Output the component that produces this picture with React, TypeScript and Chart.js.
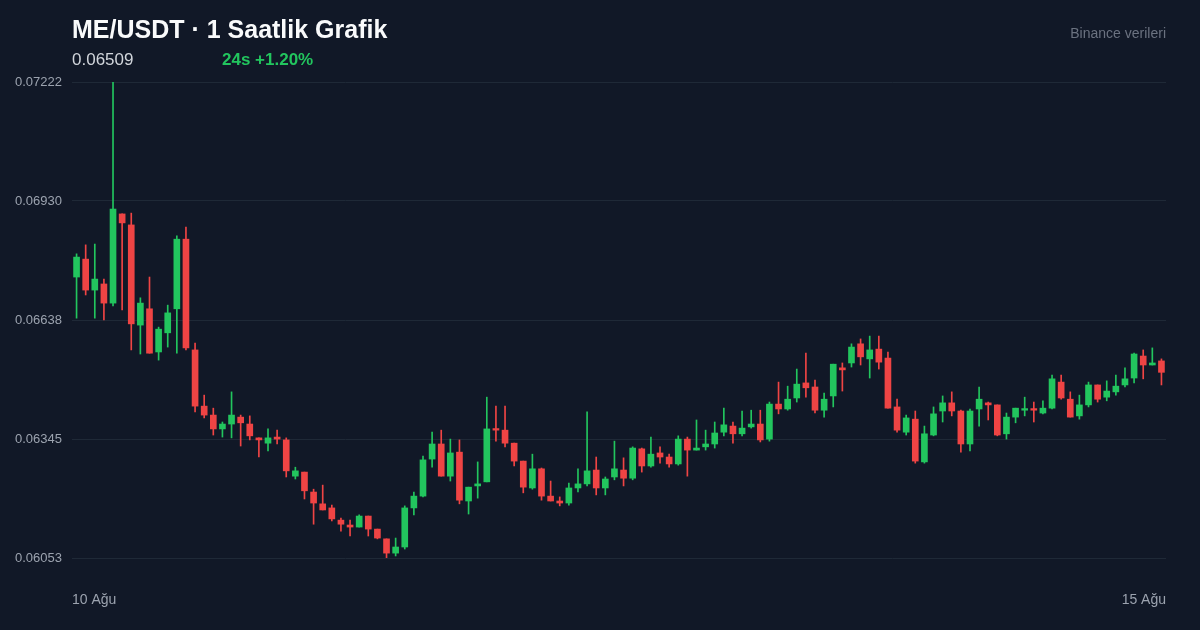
import React, { useEffect, useRef } from "react";
import { Chart, registerables } from "chart.js";

Chart.register(...registerables);

const OPEN = [
  0.06743, 0.06787, 0.06711, 0.06726, 0.06679, 0.06898, 0.06871, 0.06625, 0.06665, 0.06559,
  0.06606, 0.06665, 0.06836, 0.06564, 0.06426, 0.06404, 0.06370, 0.06382, 0.06399, 0.06382,
  0.06348, 0.06335, 0.06350, 0.06343, 0.06254, 0.06264, 0.06215, 0.06186, 0.06176, 0.06146,
  0.06134, 0.06129, 0.06156, 0.06124, 0.06100, 0.06065, 0.06080, 0.06176, 0.06205, 0.06296,
  0.06333, 0.06254, 0.06313, 0.06193, 0.06230, 0.06240, 0.06370, 0.06367, 0.06335, 0.06291,
  0.06225, 0.06272, 0.06205, 0.06193, 0.06188, 0.06225, 0.06235, 0.06269, 0.06225, 0.06252,
  0.06269, 0.06249, 0.06321, 0.06279, 0.06311, 0.06301, 0.06284, 0.06345, 0.06318, 0.06326,
  0.06333, 0.06362, 0.06377, 0.06358, 0.06375, 0.06382, 0.06345, 0.06431, 0.06419, 0.06446,
  0.06483, 0.06473, 0.06416, 0.06451, 0.06520, 0.06532, 0.06579, 0.06542, 0.06566, 0.06544,
  0.06424, 0.06362, 0.06394, 0.06289, 0.06355, 0.06414, 0.06434, 0.06414, 0.06333, 0.06419,
  0.06434, 0.06429, 0.06358, 0.06399, 0.06416, 0.06419, 0.06409, 0.06421, 0.06485, 0.06443,
  0.06402, 0.06429, 0.06478, 0.06448, 0.06461, 0.06478, 0.06495, 0.06549, 0.06527, 0.06537,
];

const HIGH = [
  0.06800, 0.06822, 0.06824, 0.06738, 0.07222, 0.06898, 0.06900, 0.06692, 0.06743, 0.06620,
  0.06674, 0.06844, 0.06866, 0.06581, 0.06453, 0.06421, 0.06387, 0.06461, 0.06404, 0.06402,
  0.06348, 0.06370, 0.06367, 0.06348, 0.06276, 0.06264, 0.06222, 0.06232, 0.06183, 0.06151,
  0.06146, 0.06159, 0.06156, 0.06124, 0.06100, 0.06102, 0.06181, 0.06215, 0.06303, 0.06362,
  0.06367, 0.06345, 0.06343, 0.06227, 0.06289, 0.06448, 0.06426, 0.06426, 0.06335, 0.06291,
  0.06308, 0.06274, 0.06242, 0.06203, 0.06237, 0.06272, 0.06412, 0.06301, 0.06252, 0.06340,
  0.06299, 0.06326, 0.06323, 0.06350, 0.06326, 0.06308, 0.06353, 0.06350, 0.06392, 0.06367,
  0.06387, 0.06421, 0.06387, 0.06414, 0.06416, 0.06416, 0.06436, 0.06485, 0.06475, 0.06517,
  0.06556, 0.06490, 0.06458, 0.06529, 0.06532, 0.06579, 0.06591, 0.06598, 0.06598, 0.06559,
  0.06443, 0.06404, 0.06414, 0.06377, 0.06424, 0.06451, 0.06461, 0.06416, 0.06419, 0.06473,
  0.06436, 0.06429, 0.06409, 0.06421, 0.06448, 0.06436, 0.06439, 0.06502, 0.06502, 0.06461,
  0.06453, 0.06485, 0.06478, 0.06488, 0.06502, 0.06520, 0.06556, 0.06564, 0.06569, 0.06542,
];

const LOW = [
  0.06642, 0.06699, 0.06642, 0.06638, 0.06672, 0.06662, 0.06564, 0.06554, 0.06556, 0.06539,
  0.06571, 0.06556, 0.06564, 0.06412, 0.06397, 0.06355, 0.06350, 0.06348, 0.06328, 0.06343,
  0.06301, 0.06316, 0.06333, 0.06252, 0.06247, 0.06198, 0.06136, 0.06171, 0.06144, 0.06119,
  0.06107, 0.06129, 0.06107, 0.06100, 0.06053, 0.06058, 0.06075, 0.06159, 0.06203, 0.06276,
  0.06254, 0.06242, 0.06186, 0.06161, 0.06200, 0.06240, 0.06340, 0.06326, 0.06279, 0.06213,
  0.06222, 0.06195, 0.06193, 0.06181, 0.06183, 0.06215, 0.06230, 0.06208, 0.06208, 0.06245,
  0.06230, 0.06245, 0.06264, 0.06276, 0.06286, 0.06276, 0.06281, 0.06254, 0.06318, 0.06318,
  0.06323, 0.06353, 0.06335, 0.06353, 0.06372, 0.06338, 0.06340, 0.06407, 0.06416, 0.06436,
  0.06448, 0.06409, 0.06399, 0.06424, 0.06463, 0.06522, 0.06527, 0.06495, 0.06517, 0.06421,
  0.06362, 0.06355, 0.06286, 0.06286, 0.06353, 0.06387, 0.06402, 0.06313, 0.06316, 0.06377,
  0.06392, 0.06353, 0.06345, 0.06385, 0.06402, 0.06387, 0.06407, 0.06419, 0.06443, 0.06399,
  0.06394, 0.06424, 0.06436, 0.06439, 0.06453, 0.06473, 0.06483, 0.06493, 0.06527, 0.06478,
];

const CLOSE = [
  0.06792, 0.06711, 0.06738, 0.06679, 0.06910, 0.06876, 0.06628, 0.06679, 0.06556, 0.06615,
  0.06655, 0.06836, 0.06569, 0.06426, 0.06404, 0.06370, 0.06382, 0.06404, 0.06385, 0.06353,
  0.06343, 0.06348, 0.06345, 0.06267, 0.06267, 0.06218, 0.06188, 0.06171, 0.06149, 0.06136,
  0.06129, 0.06156, 0.06124, 0.06102, 0.06065, 0.06080, 0.06176, 0.06205, 0.06294, 0.06333,
  0.06254, 0.06311, 0.06195, 0.06227, 0.06235, 0.06370, 0.06367, 0.06335, 0.06291, 0.06227,
  0.06272, 0.06205, 0.06193, 0.06188, 0.06225, 0.06235, 0.06267, 0.06225, 0.06247, 0.06272,
  0.06249, 0.06323, 0.06279, 0.06308, 0.06301, 0.06284, 0.06345, 0.06318, 0.06323, 0.06333,
  0.06360, 0.06380, 0.06358, 0.06372, 0.06382, 0.06343, 0.06431, 0.06419, 0.06443, 0.06480,
  0.06471, 0.06416, 0.06443, 0.06529, 0.06515, 0.06571, 0.06547, 0.06564, 0.06534, 0.06421,
  0.06367, 0.06397, 0.06291, 0.06358, 0.06407, 0.06434, 0.06414, 0.06333, 0.06414, 0.06443,
  0.06429, 0.06355, 0.06399, 0.06421, 0.06419, 0.06416, 0.06421, 0.06493, 0.06446, 0.06399,
  0.06429, 0.06478, 0.06443, 0.06463, 0.06475, 0.06493, 0.06554, 0.06527, 0.06532, 0.06509,
];

const X_LABELS = ["10 Ağu", "15 Ağu"];
const Y_MIN = 0.06053;
const Y_MAX = 0.07222;

const TITLE = "ME/USDT · 1 Saatlik Grafik";
const LAST_PRICE = "0.06509";
const CHANGE_TEXT = "24s +1.20%";
const SOURCE_TEXT = "Binance verileri";

const GREEN = "#22c55e";
const RED = "#ef4444";
const FONT = "'Liberation Sans', Arial, Helvetica, sans-serif";

export default function App() {
  const canvasRef = useRef<HTMLCanvasElement | null>(null);

  useEffect(() => {
    if (!canvasRef.current) return;
    Chart.defaults.font.family = FONT;
    const n = OPEN.length;
    const colors = OPEN.map((o, i) => (CLOSE[i] >= o ? GREEN : RED));
    const wicks = OPEN.map((_, i) => ({ x: i, y: [LOW[i], HIGH[i]] }));
    const bodies = OPEN.map((o, i) => ({ x: i, y: [o, CLOSE[i]] }));

    const chart = new Chart(canvasRef.current, {
      type: "bar",
      data: {
        datasets: [
          {
            data: bodies as any,
            backgroundColor: colors,
            borderWidth: 0,
            barThickness: 6,
            minBarLength: 1.6,
            grouped: false,
            order: 0,
          } as any,
          {
            data: wicks as any,
            backgroundColor: colors,
            borderWidth: 0,
            barThickness: 1,
            grouped: false,
            order: 1,
          } as any,
        ],
      },
      options: {
        animation: false,
        responsive: false,
        maintainAspectRatio: false,
        layout: { padding: { left: 0, right: 34, top: 82, bottom: 0 } },
        plugins: { legend: { display: false }, tooltip: { enabled: false } },
        scales: {
          x: {
            type: "linear",
            min: -0.5,
            max: n - 0.5,
            offset: false,
            grid: { display: false },
            border: { display: false },
            afterBuildTicks: (scale: any) => {
              scale.ticks = [{ value: -0.5 }, { value: n - 0.5 }];
            },
            afterFit: (scale: any) => {
              scale.height = 72;
            },
            ticks: {
              autoSkip: false,
              maxRotation: 0,
              align: "inner",
              padding: 26,
              color: "#9ca3af",
              font: { size: 14, family: FONT },
              callback: (_v: any, idx: number) => X_LABELS[idx] ?? "",
            },
          } as any,
          y: {
            type: "linear",
            min: Y_MIN,
            max: Y_MAX,
            grid: { color: "#1f2937", lineWidth: 1, drawTicks: false },
            border: { display: false },
            afterBuildTicks: (scale: any) => {
              scale.ticks = [0, 1, 2, 3, 4].map((k) => ({
                value: Y_MIN + (k * (Y_MAX - Y_MIN)) / 4,
              }));
            },
            afterFit: (scale: any) => {
              scale.width = 72;
            },
            ticks: {
              padding: 10,
              color: "#9ca3af",
              font: { size: 13, family: FONT },
              callback: (v: any) => Number(v).toFixed(5),
            },
          } as any,
        },
      },
    });
    return () => chart.destroy();
  }, []);

  return (
    <div
      style={{
        position: "fixed",
        left: 0,
        top: 0,
        width: 1200,
        height: 630,
        background: "#111827",
        overflow: "hidden",
        fontFamily: FONT,
      }}
    >
      <canvas
        ref={canvasRef}
        width={1200}
        height={630}
        style={{ position: "absolute", left: 0, top: 0, width: 1200, height: 630 }}
      />
      <div
        style={{
          position: "absolute",
          left: 72,
          top: 17,
          fontSize: 25,
          lineHeight: "25px",
          fontWeight: 700,
          color: "#f9fafb",
          whiteSpace: "nowrap",
        }}
      >
        {TITLE}
      </div>
      <div
        style={{
          position: "absolute",
          left: 72,
          top: 51,
          fontSize: 17,
          lineHeight: "17px",
          color: "#d1d5db",
          whiteSpace: "nowrap",
        }}
      >
        {LAST_PRICE}
      </div>
      <div
        style={{
          position: "absolute",
          left: 222,
          top: 51,
          fontSize: 17,
          lineHeight: "17px",
          fontWeight: 700,
          color: GREEN,
          whiteSpace: "nowrap",
        }}
      >
        {CHANGE_TEXT}
      </div>
      <div
        style={{
          position: "absolute",
          right: 34,
          top: 26,
          fontSize: 14,
          lineHeight: "14px",
          color: "#6b7280",
          whiteSpace: "nowrap",
        }}
      >
        {SOURCE_TEXT}
      </div>
    </div>
  );
}
